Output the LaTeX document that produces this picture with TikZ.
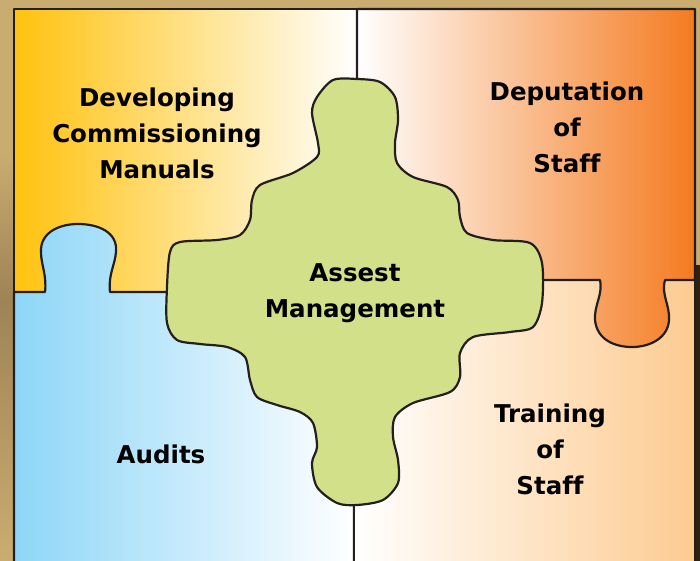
\documentclass[tikz,border=0pt]{standalone}
\usepackage{fontspec}
\setmainfont[Ligatures=NoCommon]{DejaVu Sans}
\definecolor{frametan}{HTML}{C9AD70}
\definecolor{framebrown}{HTML}{9E8356}
\definecolor{edgedark}{HTML}{231F20}
\definecolor{sunyellow}{HTML}{FFC20E}
\definecolor{deeporange}{HTML}{F47B20}
\definecolor{skyblue}{HTML}{8DD6F7}
\definecolor{peach}{HTML}{FDCB90}
\definecolor{leafgreen}{HTML}{D3E08A}
\tikzset{
  piece/.style={draw=edgedark,line width=2.2pt,line join=round},
  piecetext/.style={align=center,font=\bfseries\fontsize{24.5}{36}\selectfont,text=black}
}
\begin{document}
\begin{tikzpicture}[x=1pt,y=-1pt]
  \useasboundingbox (0,0) rectangle (700,561);
  \clip (0,0) rectangle (700,561);

  % backdrop
  \fill[frametan] (0,0) rectangle (700,561);
  \shade[top color=frametan,bottom color=framebrown] (0,150) rectangle (14,300);
  \shade[top color=framebrown,bottom color=frametan] (0,300) rectangle (14,561);
  \fill[black!75!brown] (695,265) rectangle (700,561);

  % top left piece
  \shade[piece,left color=sunyellow,right color=white] (14,9) rectangle (357,292);

  % bottom left piece, tab pushing up
  \shade[piece,left color=skyblue,right color=white]
    (14,570) -- (14,292) -- (45,292)
    .. controls (47,275) and (41,265) .. (41,252)
    .. controls (40,232) and (60,224) .. (78,224)
    .. controls (98,224) and (118,232) .. (116,252)
    .. controls (115,265) and (108,275) .. (110,292)
    -- (354,292) -- (354,570) -- cycle;

  % bottom right piece
  \shade[piece,left color=white,right color=peach] (354,280) rectangle (695,570);

  % top right piece, tab hanging down
  \shade[piece,left color=white,right color=deeporange]
    (357,9) -- (695,9) -- (695,280) -- (665,280)
    .. controls (661,295) and (670,305) .. (669,320)
    .. controls (668,338) and (650,347) .. (632,347)
    .. controls (615,347) and (597,340) .. (595,320)
    .. controls (594,305) and (603,295) .. (600,280)
    -- (357,280) -- cycle;

  % centre piece
  \draw[piece,fill=leafgreen] plot[smooth cycle,tension=0.5] coordinates {
    (357,79) (380,82) (395,97) (398,120) (395,143) (397,163) (413,177)
    (447,187) (458,200) (460,217) (467,233) (493,240) (530,243) (542,263)
    (542,303) (533,327) (510,332) (473,337) (460,353) (460,377) (450,392)
    (413,403) (395,417) (393,437) (398,460) (398,483) (383,500) (357,505)
    (337,503) (317,487) (312,463) (317,447) (313,423) (300,412) (277,405)
    (257,397) (250,380) (245,357) (227,347) (200,344) (177,340) (167,323)
    (167,287) (170,252) (180,242) (217,240) (240,235) (250,220) (252,200)
    (260,185) (293,173) (317,157) (318,143) (312,113) (317,97) (333,80)
  };

  % labels
  \node[piecetext] (manuals) at (157,133) {Developing\\Commissioning\\Manuals};
  \node[piecetext] (deputation) at (567,127) {Deputation\\of\\Staff};
  \node[piecetext] (asset) at (355,293) {Assest\\Management};
  \node[piecetext] (audits) at (161,454) {Audits};
  \node[piecetext] (training) at (550,449) {Training\\of\\Staff};
\end{tikzpicture}
\end{document}
